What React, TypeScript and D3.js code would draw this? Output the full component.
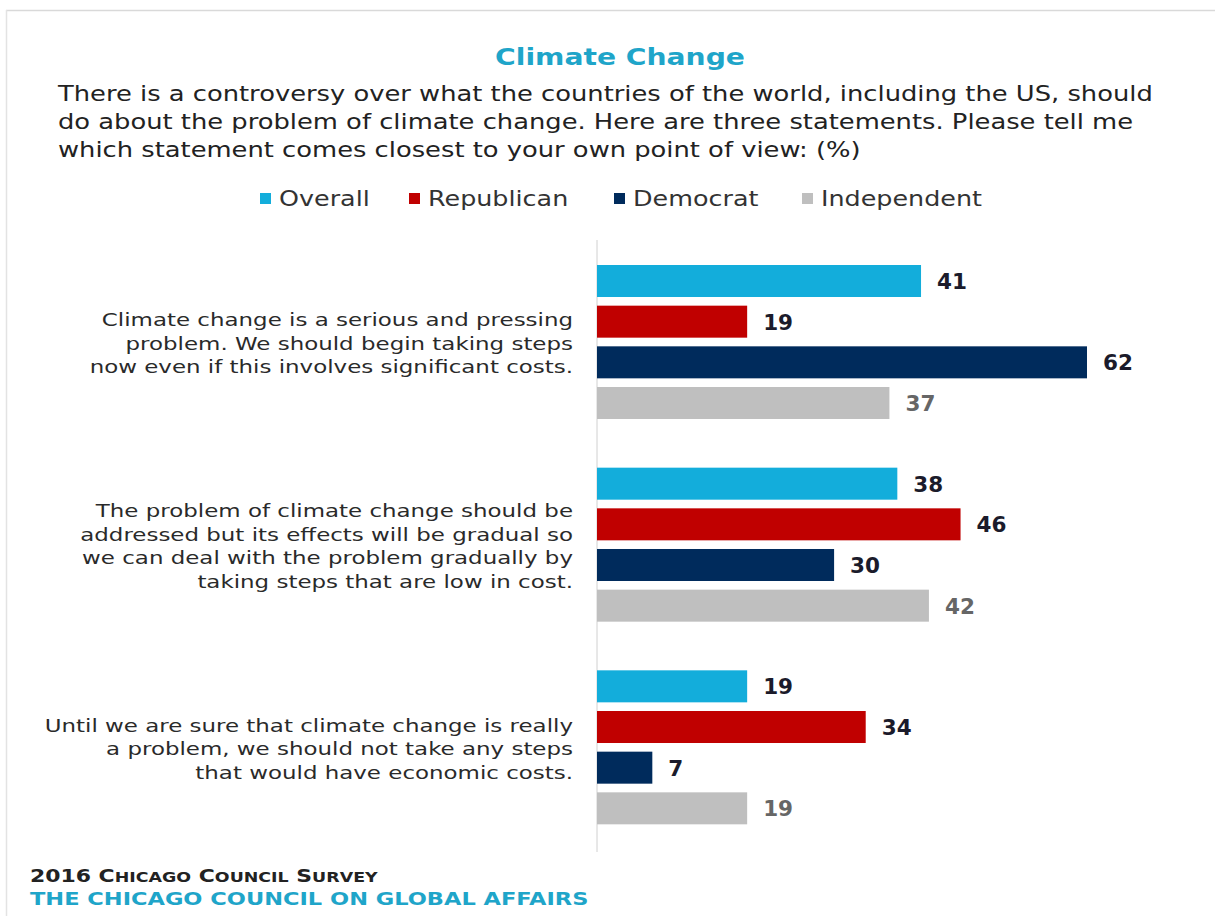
import React from "react";
import * as d3 from "d3";

const categories = [
  ["Climate change is a serious and pressing", "problem. We should begin taking steps", "now even if this involves significant costs."],
  ["The problem of climate change should be", "addressed but its effects will be gradual so", "we can deal with the problem gradually by", "taking steps that are low in cost."],
  ["Until we are sure that climate change is really", "a problem, we should not take any steps", "that would have economic costs."],
];
const seriesNames = ["Overall", "Republican", "Democrat", "Independent"];
const overall = [41, 38, 19];
const republican = [19, 46, 34];
const democrat = [62, 30, 7];
const independent = [37, 42, 19];
const subtitleLines = [
  "There is a controversy over what the countries of the world, including the US, should",
  "do about the problem of climate change. Here are three statements. Please tell me",
  "which statement comes closest to your own point of view: (%)",
];
const colors = ["#13ADDB", "#C00000", "#002B5C", "#BFBFBF"];
const labelColors = ["#1b1b2b", "#1b1b2b", "#1b1b2b", "#666666"];

const W = 1215, H = 916;
const FONT = "'DejaVu Sans', Verdana, sans-serif";

function Stretch({ ax, sx, children }: { ax: number; sx: number; children: React.ReactNode }) {
  return <g transform={`translate(${ax},0) scale(${sx},1) translate(${-ax},0)`}>{children}</g>;
}

export default function App() {
  const series = [overall, republican, democrat, independent];
  const x = d3.scaleLinear().domain([0, 62]).range([597, 1087]);
  const yGroup = d3.scaleBand<number>().domain([0, 1, 2]).range([265, 873]);
  const groupH = 154;
  const yInner = d3.scaleBand<number>().domain([0, 1, 2, 3]).range([0, groupH]).paddingInner(0.213).paddingOuter(0);

  const legendX = [260, 409, 614, 802];

  return (
    <svg width={W} height={H} style={{ position: "absolute", left: 0, top: 0, background: "#fff" }} fontFamily={FONT}>
      <rect x={0} y={0} width={W} height={H} fill="#fff" />
      <line x1={6} x2={W} y1={10.5} y2={10.5} stroke="#d9d9d9" strokeWidth={1.5} />
      <line x1={6.5} x2={6.5} y1={10} y2={H} stroke="#e3e3e3" strokeWidth={1.5} />

      <Stretch ax={620} sx={1.2}>
        <text x={620} y={65} textAnchor="middle" fontSize={23.5} fontWeight="bold" fill="#1FA5C9">Climate Change</text>
      </Stretch>
      <Stretch ax={58} sx={1.24}>
        {subtitleLines.map((t, i) => (
          <text key={i} x={58} y={101 + i * 28} fontSize={20.8} fill="#222">{t}</text>
        ))}
      </Stretch>

      {seriesNames.map((n, i) => (
        <g key={n}>
          <rect x={legendX[i]} y={193} width={11} height={11} fill={colors[i]} />
          <Stretch ax={legendX[i] + 19} sx={1.24}>
            <text x={legendX[i] + 19} y={206} fontSize={20.5} fill="#333">{n}</text>
          </Stretch>
        </g>
      ))}

      <line x1={597} x2={597} y1={240} y2={852} stroke="#d0d0d0" strokeWidth={1} />

      {categories.map((lines, gi) => {
        const g0 = yGroup(gi) as number;
        const center = g0 + groupH / 2;
        const lh = 23.5;
        const startY = center - ((lines.length - 1) * lh) / 2 + 8;
        return (
          <g key={gi}>
            <Stretch ax={573} sx={1.24}>
              {lines.map((l, li) => (
                <text key={li} x={573} y={startY + li * lh} textAnchor="end" fontSize={18.5} fill="#2a2a2a">{l}</text>
              ))}
            </Stretch>
            {series.map((s, si) => {
              const y0 = g0 + (yInner(si) as number);
              const bh = yInner.bandwidth();
              const lx = x(s[gi]) + 16;
              return (
                <g key={si}>
                  <rect x={x(0)} y={y0} width={x(s[gi]) - x(0)} height={bh} fill={colors[si]} />
                  <Stretch ax={lx} sx={1.05}>
                    <text x={lx} y={y0 + bh / 2 + 8} fontSize={20.5} fontWeight="bold" fill={labelColors[si]}>{s[gi]}</text>
                  </Stretch>
                </g>
              );
            })}
          </g>
        );
      })}

      <Stretch ax={30} sx={1.29}>
        <text x={30} y={882} fontSize={17} fontWeight="bold" fill="#222">
          2016 C<tspan fontSize={13.5}>HICAGO</tspan> C<tspan fontSize={13.5}>OUNCIL</tspan> S<tspan fontSize={13.5}>URVEY</tspan>
        </text>
      </Stretch>
      <Stretch ax={30} sx={1.25}>
        <text x={30} y={905} fontSize={18} fontWeight="bold" fill="#1FA5C9">THE CHICAGO COUNCIL ON GLOBAL AFFAIRS</text>
      </Stretch>
    </svg>
  );
}
